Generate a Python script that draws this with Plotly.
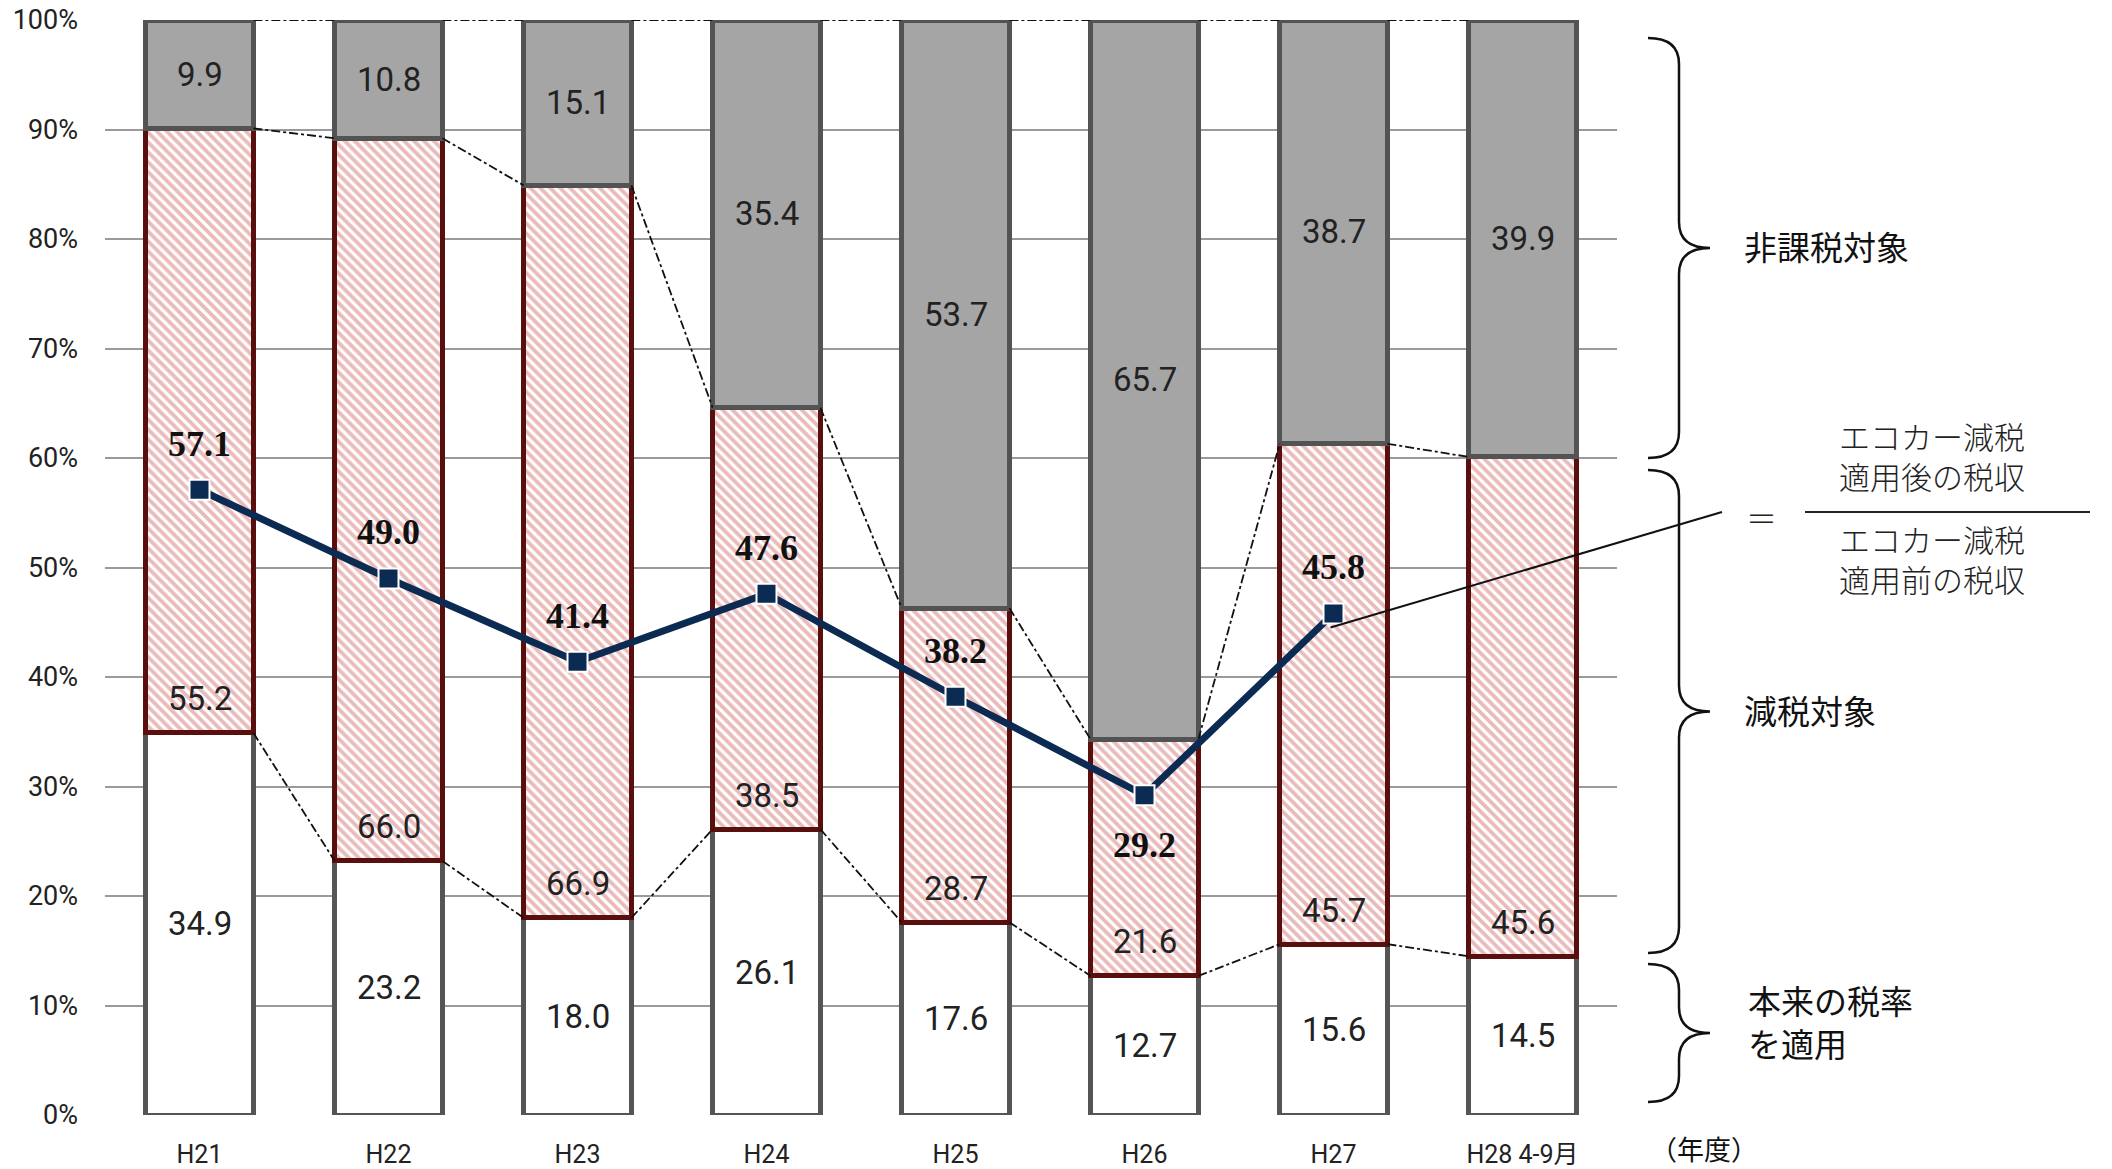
import plotly.graph_objects as go

# ---------------- data ----------------
categories = ["H21", "H22", "H23", "H24", "H25", "H26", "H27", "H28 4-9月"]
base_rate = [34.9, 23.2, 18.0, 26.1, 17.6, 12.7, 15.6, 14.5]      # 本来の税率を適用
reduced = [55.2, 66.0, 66.9, 38.5, 28.7, 21.6, 45.7, 45.6]        # 減税対象
exempt = [9.9, 10.8, 15.1, 35.4, 53.7, 65.7, 38.7, 39.9]          # 非課税対象
ratio = [57.1, 49.0, 41.4, 47.6, 38.2, 29.2, 45.8]                # 税収比率 (H21-H27)
y_ticks = [0, 10, 20, 30, 40, 50, 60, 70, 80, 90, 100]
y_tick_text = [f"{v}%" for v in y_ticks]

# ---------------- layout geometry ----------------
W, H = 2112, 1169
ML, MR, MT, MB = 105, 495, 20, 54
PW, PH = W - ML - MR, H - MT - MB
BAR_W = 0.57
XR = [-0.5, len(categories) - 0.5]


def px(x):
    return (x - ML) / PW


def py(y):
    return (H - MB - y) / PH


xs = list(range(len(categories)))
cum1 = base_rate
cum2 = [a + b for a, b in zip(base_rate, reduced)]
cum3 = [a + b + c for a, b, c in zip(base_rate, reduced, exempt)]

fig = go.Figure()

# series lines (dash-dot connectors between bars)
for level in (cum1, cum2, cum3):
    for i in range(len(xs) - 1):
        fig.add_trace(go.Scatter(
            x=[xs[i] + BAR_W / 2, xs[i + 1] - BAR_W / 2],
            y=[level[i], level[i + 1]],
            mode="lines", line=dict(color="#111111", width=1.8, dash="dashdot"),
            hoverinfo="skip", showlegend=False))

fig.add_trace(go.Bar(
    x=xs, y=base_rate, width=BAR_W, name="本来の税率を適用",
    marker=dict(color="white", line=dict(color="#555555", width=5))))
fig.add_trace(go.Bar(
    x=xs, y=reduced, width=BAR_W, name="減税対象",
    marker=dict(color="white", line=dict(color="#5a0f0f", width=5),
                pattern=dict(shape="\\", fgcolor="#d67777", bgcolor="white",
                             size=7, solidity=0.55))))
fig.add_trace(go.Bar(
    x=xs, y=exempt, width=BAR_W, name="非課税対象",
    marker=dict(color="#a5a5a5", line=dict(color="#535353", width=5))))

fig.add_trace(go.Scatter(
    x=xs[:len(ratio)], y=ratio, mode="lines+markers",
    line=dict(color="#0c2b52", width=7),
    marker=dict(symbol="square", size=20, color="#0c2b52",
                line=dict(color="white", width=2)),
    showlegend=False))

annotations = []
lab_font = dict(family="Roboto, 'Noto Sans CJK JP'", size=33, color="#222222")
for i in xs:
    annotations.append(dict(x=i, y=base_rate[i] / 2, xref="x", yref="y",
                            text=f"{base_rate[i]:.1f}", showarrow=False, font=lab_font))
    annotations.append(dict(x=i, y=base_rate[i], yshift=34, xref="x", yref="y",
                            text=f"{reduced[i]:.1f}", showarrow=False, font=lab_font))
    annotations.append(dict(x=i, y=cum2[i] + exempt[i] / 2, xref="x", yref="y",
                            text=f"{exempt[i]:.1f}", showarrow=False, font=lab_font))

line_font = dict(family="'Liberation Serif', serif", size=36, color="#111111", weight="bold")
for i, v in enumerate(ratio):
    shift = -50 if i == 5 else 46
    annotations.append(dict(x=i, y=v, yshift=shift, xref="x", yref="y",
                            text=f"{v:.1f}", showarrow=False, font=line_font))

jp = "'Noto Sans CJK JP', sans-serif"
side_font = dict(family=jp, size=33, color="#111111")
annotations += [
    dict(x=px(1742), y=py(246), text="非課税対象", font=side_font),
    dict(x=px(1742), y=py(710), text="減税対象", font=side_font),
    dict(x=px(1746), y=py(1021), text="本来の税率<br>を適用", font=side_font, align="left"),
    dict(x=px(1648), y=py(1148), text="（年度）", font=dict(family=jp, size=27, color="#111111")),
]
frac_font = dict(family=jp, size=31, color="#222222", weight=300)
annotations += [
    dict(x=px(1744), y=py(516), text="＝", font=frac_font),
    dict(x=px(1837), y=py(456), text="エコカー減税<br>適用後の税収", font=frac_font, align="left"),
    dict(x=px(1837), y=py(558), text="エコカー減税<br>適用前の税収", font=frac_font, align="left"),
]
for a in annotations:
    a.setdefault("xref", "paper")
    a.setdefault("yref", "paper")
    a.setdefault("showarrow", False)
    a.setdefault("xanchor", "center" if a["xref"] == "x" else "left")
    a.setdefault("yanchor", "middle")


def brace(x_end, x_mid, x_tip, y_top, y_bot, r=26):
    y_tip = (y_top + y_bot) / 2
    pts = [
        f"M {px(x_end)},{py(y_top)}",
        f"Q {px(x_mid)},{py(y_top)} {px(x_mid)},{py(y_top + r)}",
        f"L {px(x_mid)},{py(y_tip - r)}",
        f"Q {px(x_mid)},{py(y_tip)} {px(x_tip)},{py(y_tip)}",
        f"Q {px(x_mid)},{py(y_tip)} {px(x_mid)},{py(y_tip + r)}",
        f"L {px(x_mid)},{py(y_bot - r)}",
        f"Q {px(x_mid)},{py(y_bot)} {px(x_end)},{py(y_bot)}",
    ]
    return dict(type="path", xref="paper", yref="paper", path=" ".join(pts),
                line=dict(color="#111111", width=2.5))


shapes = [
    brace(1648, 1679, 1710, 38, 458),
    brace(1648, 1679, 1710, 470, 953),
    brace(1648, 1679, 1710, 964, 1102),
    # fraction bar
    dict(type="line", xref="paper", yref="paper", x0=px(1805), x1=px(2090),
         y0=py(512), y1=py(512), line=dict(color="#222222", width=2)),
    # leader line from the H27 marker to the formula
    dict(type="line", xref="paper", yref="paper",
         x0=(6 - XR[0]) / (XR[1] - XR[0]) - 3 / PW, y0=ratio[6] / 100 - 14 / PH,
         x1=px(1722), y1=py(512), line=dict(color="#111111", width=2), layer="above"),
]

fig.update_layout(
    width=W, height=H, margin=dict(l=ML, r=MR, t=MT, b=MB, autoexpand=False),
    paper_bgcolor="white", plot_bgcolor="white",
    barmode="stack", showlegend=False,
    annotations=annotations, shapes=shapes,
    xaxis=dict(range=XR, tickmode="array", tickvals=xs, ticktext=categories,
               showgrid=False, zeroline=False, showline=False, ticks="",
               ticklabelstandoff=22, automargin=False,
               tickfont=dict(family="Roboto, 'Noto Sans CJK JP'", size=25, color="#222222")),
    yaxis=dict(range=[0, 100], tickmode="array", tickvals=y_ticks, ticktext=y_tick_text,
               showgrid=True, gridcolor="#9a9a9a", gridwidth=2, zeroline=False,
               showline=False, ticks="", ticklabelstandoff=26, automargin=False,
               tickfont=dict(family="Roboto", size=27, color="#222222")),
)

fig.write_html("out.html")
